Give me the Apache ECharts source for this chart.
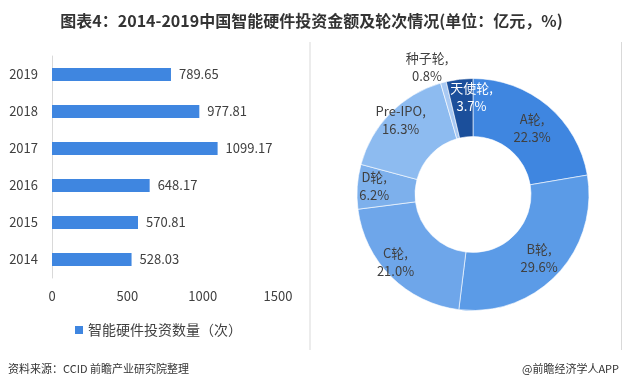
<!DOCTYPE html>
<html><head><meta charset="utf-8">
<script src="https://cdn.jsdelivr.net/npm/echarts@6/dist/echarts.min.js"></script>
<style>html,body{margin:0;padding:0;background:#fff}#c{width:623px;height:390px}</style>
</head><body><div id="c"></div>
<script>
const years = ['2014','2015','2016','2017','2018','2019'];
const investCounts = [528.03, 570.81, 648.17, 1099.17, 977.81, 789.65];
const xTicks = [0, 500, 1000, 1500];
const roundNames = ['A轮','B轮','C轮','D轮','Pre-IPO','种子轮','天使轮'];
const roundShares = [22.3, 29.6, 21.0, 6.2, 16.3, 0.8, 3.7];

const pieColors = ['#3f86e0','#5b9be7','#6ea6ea','#7db0ec','#8dbbf0','#a8c9f3','#1b4f9b'];
const labelShift = [[1,2],[1,1],[-14,4],[-9,-2],[-8,-11],[-23,-40],[9,-8]];
const FONT = '"Noto Sans CJK SC", "Noto Sans", sans-serif';

const chart = echarts.init(document.getElementById('c'));
chart.setOption({
  animation: false,
  textStyle: { fontFamily: FONT },
  title: {
    text: '图表4：2014-2019中国智能硬件投资金额及轮次情况(单位：亿元，%)',
    left: 'center', top: 8,
    textStyle: { fontSize: 16, fontWeight: 'bold', color: '#333', fontFamily: FONT }
  },
  legend: {
    data: ['智能硬件投资数量（次）'],
    left: 70, top: 318,
    itemWidth: 8, itemHeight: 8, itemGap: 4,
    icon: 'rect',
    textStyle: { fontSize: 14, color: '#404040', fontFamily: FONT }
  },
  grid: { left: 52, top: 56, width: 226, height: 222, containLabel: false },
  xAxis: {
    type: 'value', min: 0, max: 1500, interval: 500,
    axisLine: { show: false }, axisTick: { show: false },
    splitLine: { show: false },
    axisLabel: { fontSize: 13, color: '#404040', margin: 12,
      formatter: v => xTicks.includes(v) ? String(v) : '' }
  },
  yAxis: {
    type: 'category', data: years,
    axisLine: { show: true, lineStyle: { color: '#d9d9d9' } },
    axisTick: { show: false },
    axisLabel: { fontSize: 13, color: '#404040', margin: 14 }
  },
  series: [
    {
      name: '智能硬件投资数量（次）', type: 'bar', data: investCounts,
      barWidth: 13, itemStyle: { color: '#3f86e0' },
      label: { show: true, position: 'right', distance: 8, fontSize: 13, color: '#404040',
        formatter: p => p.value.toFixed(2) }
    },
    {
      type: 'pie', center: [473, 194.5], radius: [58, 116],
      startAngle: 90, clockwise: true,
      itemStyle: { borderColor: 'rgba(255,255,255,0.6)', borderWidth: 1 },
      label: { show: true, position: 'inside', fontSize: 13, lineHeight: 18, color: '#404040',
        formatter: p => p.name + ',\n' + p.value.toFixed(1) + '%' },
      labelLine: { show: false },
      labelLayout: p => ({ dx: labelShift[p.dataIndex][0], dy: labelShift[p.dataIndex][1] }),
      emphasis: { disabled: true },
      data: roundNames.map((n, i) => ({
        name: n, value: roundShares[i],
        itemStyle: { color: pieColors[i] },
        label: i === 6 ? { color: '#fff' } : undefined
      }))
    }
  ],
  graphic: [
    { type: 'line', shape: { x1: 310, y1: 42, x2: 310, y2: 350 }, style: { stroke: '#d9d9d9', lineWidth: 1 } },
    { type: 'line', shape: { x1: 621.5, y1: 42, x2: 621.5, y2: 350 }, style: { stroke: '#d9d9d9', lineWidth: 1 } },
    { type: 'text', left: 8, top: 363, style: { text: '资料来源：CCID 前瞻产业研究院整理', fill: '#333', font: '11px ' + FONT } },
    { type: 'text', right: 4, top: 363, style: { text: '@前瞻经济学人APP', fill: '#333', font: '11px ' + FONT } }
  ]
});
</script></body></html>
